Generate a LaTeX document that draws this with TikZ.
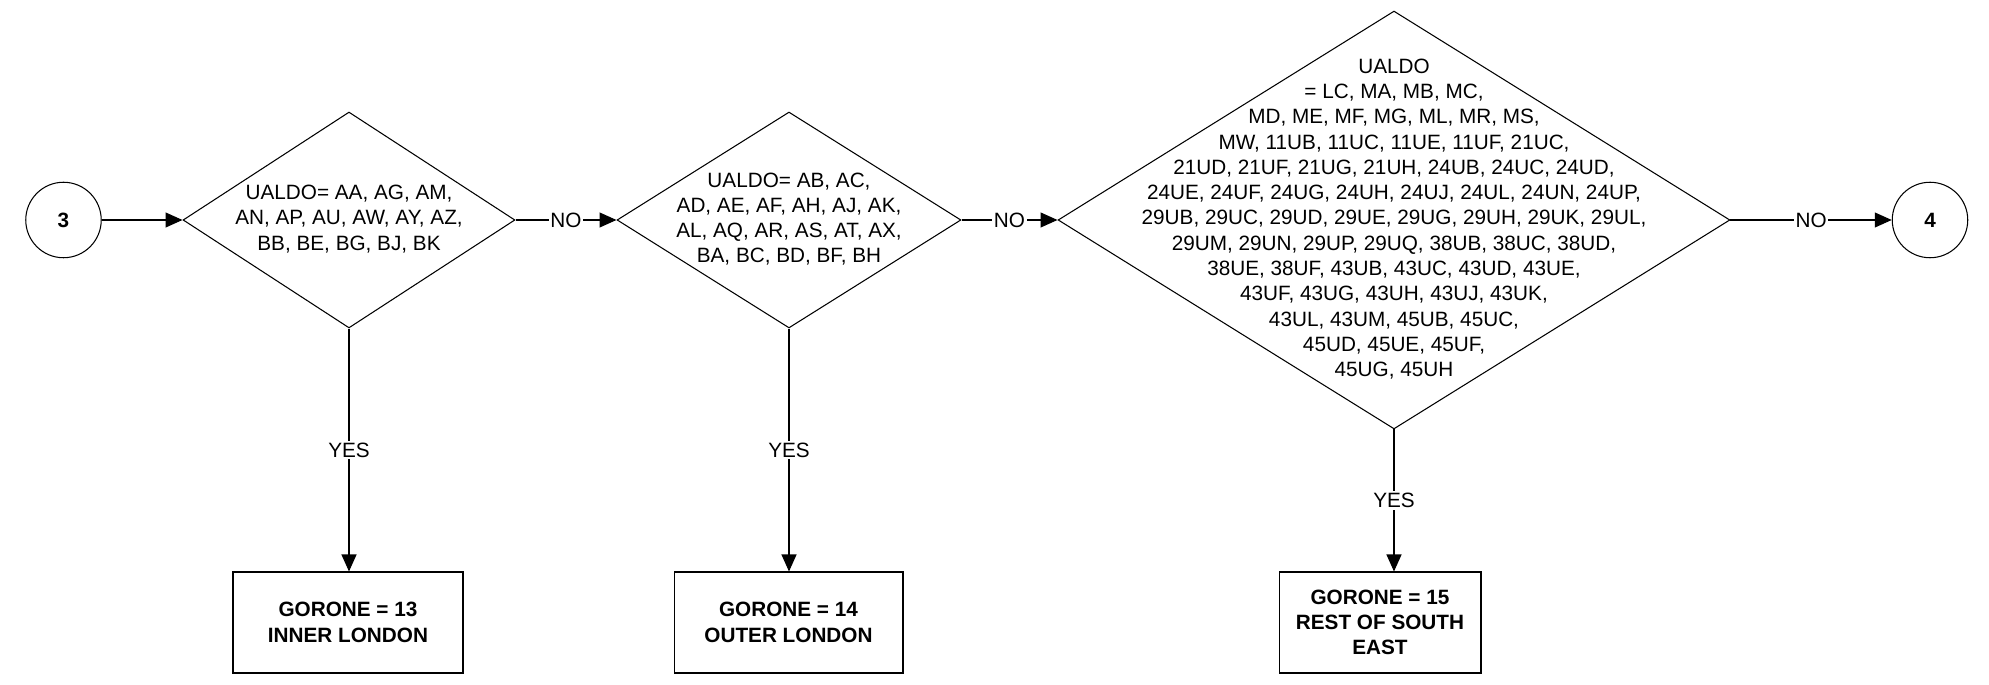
\documentclass[tikz,border=0pt]{standalone}
\usepackage{fontspec}
\setmainfont{Liberation Sans}
\usepackage{tikz}
\usetikzlibrary{arrows.meta,shapes.geometric}
\newcommand{\codelist}[1]{\makebox[0pt]{\smash{\raisebox{-0.25em}{\begin{tabular}{@{}c@{}}#1\end{tabular}}}}}

\begin{document}
\begin{tikzpicture}[
  x=0.02cm, y=-0.02cm, line width=0.6pt,
  every node/.style={font=\fontsize{11.8}{14.4}\selectfont},
  decision/.style={diamond, draw, inner sep=0pt},
  result/.style={draw, align=center, minimum height=2.02cm, font=\fontsize{11.8}{14.4}\selectfont\bfseries},
  connector/.style={circle, draw, inner sep=0pt, minimum size=1.51cm, font=\fontsize{11.8}{14.4}\selectfont\bfseries},
  answer/.style={fill=white, inner sep=1pt},
  arrow/.style={-{Triangle[length=0.34cm, width=0.3cm]}}
]
\useasboundingbox (0,0) rectangle (1989,685);
\node[connector] (c3) at (63.5,220) {3};
\node[decision, minimum width=6.64cm, minimum height=4.32cm] (d1) at (349,220) {\codelist{UALDO= AA, AG, AM,\\AN, AP, AU, AW, AY, AZ,\\BB, BE, BG, BJ, BK}};
\node[decision, minimum width=6.88cm, minimum height=4.32cm] (d2) at (789,220) {\codelist{UALDO= AB, AC,\\AD, AE, AF, AH, AJ, AK,\\AL, AQ, AR, AS, AT, AX,\\BA, BC, BD, BF, BH}};
\node[decision, minimum width=13.44cm, minimum height=8.36cm] (d3) at (1394,220) {\codelist{UALDO\\= LC, MA, MB, MC,\\MD, ME, MF, MG, ML, MR, MS,\\MW, 11UB, 11UC, 11UE, 11UF, 21UC,\\21UD, 21UF, 21UG, 21UH, 24UB, 24UC, 24UD,\\24UE, 24UF, 24UG, 24UH, 24UJ, 24UL, 24UN, 24UP,\\29UB, 29UC, 29UD, 29UE, 29UG, 29UH, 29UK, 29UL,\\29UM, 29UN, 29UP, 29UQ, 38UB, 38UC, 38UD,\\38UE, 38UF, 43UB, 43UC, 43UD, 43UE,\\43UF, 43UG, 43UH, 43UJ, 43UK,\\43UL, 43UM, 45UB, 45UC,\\45UD, 45UE, 45UF,\\45UG, 45UH}};
\node[connector] (c4) at (1930,220) {4};
\node[result, minimum width=4.6cm] (b1) at (348,622.5) {GORONE = 13\\INNER LONDON};
\node[result, minimum width=4.58cm] (b2) at (788.5,622.5) {GORONE = 14\\OUTER LONDON};
\node[result, minimum width=4.04cm] (b3) at (1380,622.5) {GORONE = 15\\REST OF SOUTH\\EAST};
\draw[arrow] (c3) -- (d1);
\draw[arrow] (d1) -- node[answer] {NO} (d2);
\draw[arrow] (d2) -- node[answer] {NO} (d3);
\draw[arrow] (d3) -- node[answer] {NO} (c4);
\draw[arrow] (d1.south) -- node[answer] {YES} (d1.south |- b1.north);
\draw[arrow] (d2.south) -- node[answer] {YES} (d2.south |- b2.north);
\draw[arrow] (d3.south) -- node[answer] {YES} (d3.south |- b3.north);
\end{tikzpicture}
\end{document}
